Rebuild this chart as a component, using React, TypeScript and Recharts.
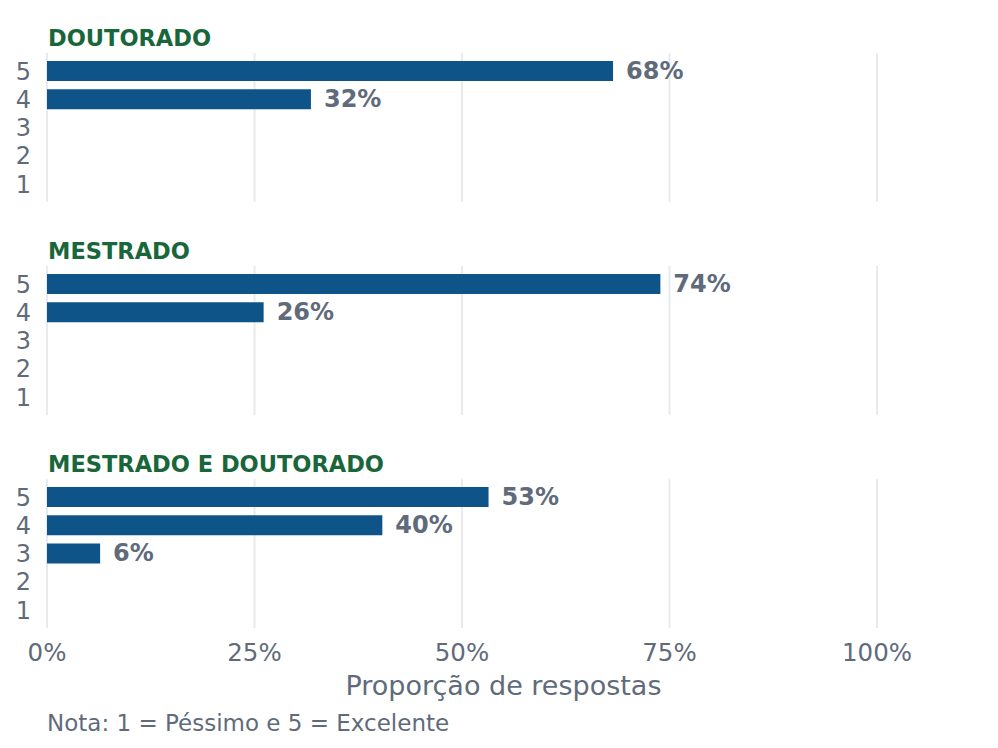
import React from "react";
import { BarChart, Bar, XAxis, YAxis, CartesianGrid, LabelList } from "recharts";

const categories = ["5", "4", "3", "2", "1"];
const panelTitles = ["DOUTORADO", "MESTRADO", "MESTRADO E DOUTORADO"];
const doutorado = [0.682, 0.318, null, null, null];
const mestrado = [0.739, 0.261, null, null, null];
const mestradoDoutorado = [0.532, 0.404, 0.064, null, null];
const xTicks = [0, 0.25, 0.5, 0.75, 1];
const xMax = 1.1;
const axisTitle = "Proporção de respostas";
const note = "Nota: 1 = Péssimo e 5 = Excelente";

const FONT = "DejaVu Sans";
const BAR = "#0e5488";
const GRAY = "#5f6b7a";
const GREEN = "#18663a";
const GRID = "#e8eaed";

const W = 998;
const PANEL_H = 213;
const PLOT_TOP = 53;
const PLOT_H = 149;

const series = [doutorado, mestrado, mestradoDoutorado];

const buildRows = (vals: (number | null)[]) =>
  categories.map((c, i) => ({ cat: c, value: vals[i] }));

const pct = (v: number) => `${Math.round(v * 100)}%`;

const BarLabel = (props: any) => {
  const { x, y, width, height, value } = props;
  if (value === null || value === undefined) return null;
  return (
    <text
      x={x + width + 13}
      y={y + height / 2}
      dominantBaseline="central"
      fontFamily={FONT}
      fontWeight="bold"
      fontSize={24}
      fill={GRAY}
    >
      {pct(value)}
    </text>
  );
};

const YTick = (props: any) => {
  const { x, y, payload } = props;
  return (
    <text x={x} y={y} dy="0.36em" textAnchor="end" fontFamily={FONT} fontSize={24} fill={GRAY}>
      {payload.value}
    </text>
  );
};

const XTick = (props: any) => {
  const { x, y, payload } = props;
  return (
    <text x={x} y={y} dy="0.71em" textAnchor="middle" fontFamily={FONT} fontSize={24.5} fill={GRAY}>
      {pct(payload.value)}
    </text>
  );
};

const gridGenerator = (args: any) => {
  const { offset } = args;
  const scale = args?.xAxis?.scale;
  if (scale && typeof scale === "function") {
    return xTicks.map((t) => scale(t));
  }
  return xTicks.map((t) => offset.left + (offset.width * t) / xMax);
};

const Panel = ({ idx }: { idx: number }) => {
  const last = idx === series.length - 1;
  const height = last ? 748 - PANEL_H * idx : PANEL_H;
  const xAxisH = 40;
  const bottom = height - PLOT_TOP - PLOT_H - (last ? xAxisH : 0);
  return (
    <div style={{ position: "absolute", left: 0, top: PANEL_H * idx, width: W, height }}>
      <BarChart
        width={W}
        height={height}
        data={buildRows(series[idx])}
        layout="vertical"
        margin={{ top: PLOT_TOP, right: 38, bottom, left: 0 }}
      >
        <CartesianGrid
          horizontal={false}
          stroke={GRID}
          strokeWidth={2}
          verticalCoordinatesGenerator={gridGenerator}
          syncWithTicks={false}
        />
        <XAxis
          type="number"
          dataKey="value"
          domain={[0, xMax]}
          ticks={xTicks}
          hide={!last}
          height={xAxisH}
          axisLine={false}
          tickLine={false}
          tickSize={0}
          tickMargin={16}
          tick={<XTick />}
          allowDataOverflow
        />
        <YAxis
          type="category"
          dataKey="cat"
          width={47}
          axisLine={false}
          tickLine={false}
          tickSize={0}
          tickMargin={16}
          padding={{ top: 4, bottom: 4 }}
          tick={<YTick />}
          interval={0}
        />
        <Bar dataKey="value" fill={BAR} barSize={20} isAnimationActive={false}>
          <LabelList dataKey="value" content={<BarLabel />} />
        </Bar>
      </BarChart>
      <svg
        width={W}
        height={60}
        style={{ position: "absolute", left: 0, top: 0, pointerEvents: "none" }}
      >
        <text x={48} y={46} fontFamily={FONT} fontWeight="bold" fontSize={22.5} fill={GREEN}>
          {panelTitles[idx]}
        </text>
      </svg>
    </div>
  );
};

export default function App() {
  return (
    <div style={{ position: "absolute", left: 0, top: 0, width: W, height: 748, background: "#fff" }}>
      {series.map((_, i) => (
        <Panel key={i} idx={i} />
      ))}
      <svg width={W} height={748} style={{ position: "absolute", left: 0, top: 0, pointerEvents: "none" }}>
        <text x={503.5} y={695} textAnchor="middle" fontFamily={FONT} fontSize={27} fill={GRAY}>
          {axisTitle}
        </text>
        <text x={47} y={731} fontFamily={FONT} fontSize={23} fill={GRAY}>
          {note}
        </text>
      </svg>
    </div>
  );
}
